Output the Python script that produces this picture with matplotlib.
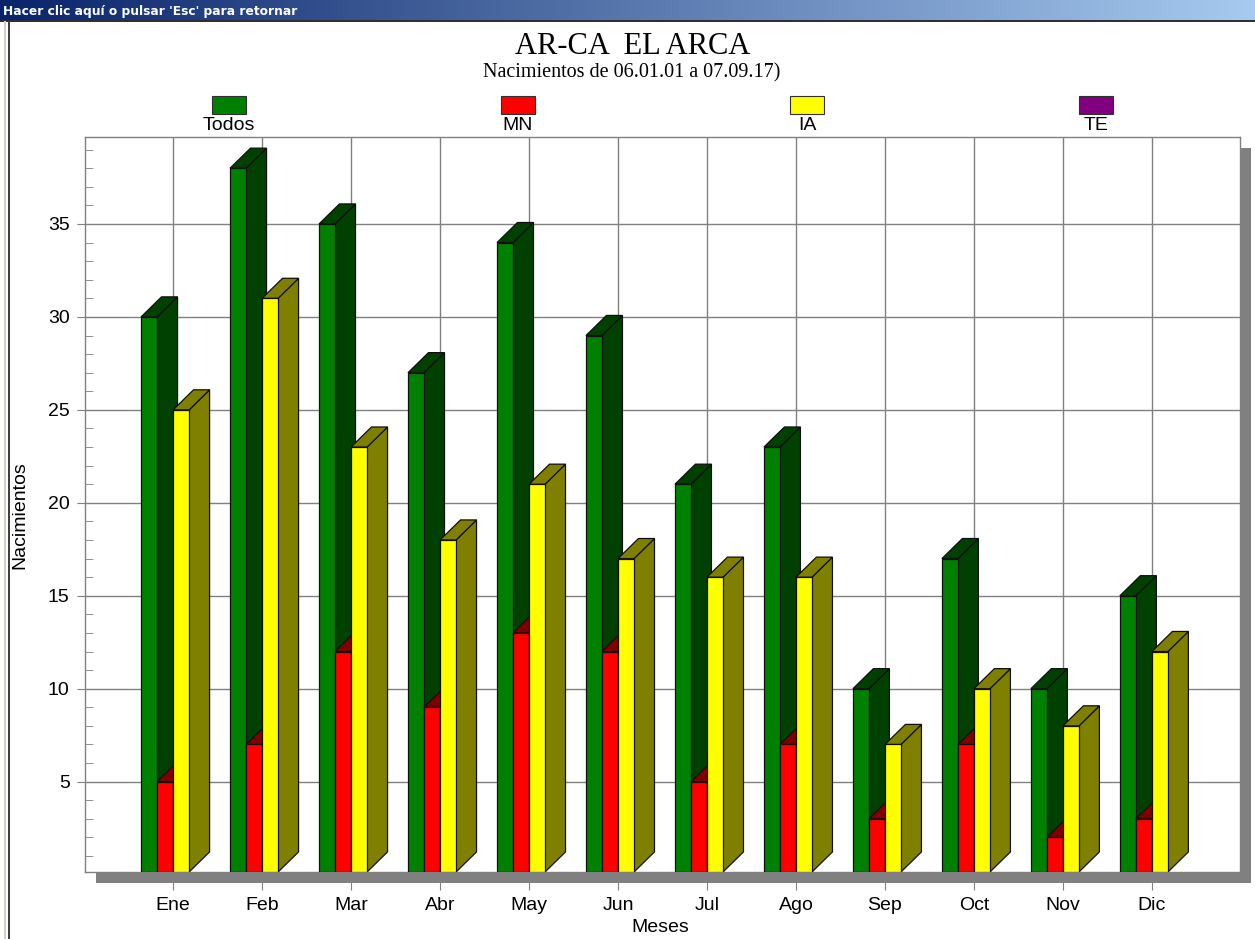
"""3-D style monthly birth chart (Todos / MN / IA / TE)."""

import matplotlib

matplotlib.use("Agg")

import matplotlib.pyplot as plt
import numpy as np
from matplotlib.patches import Polygon, Rectangle
from matplotlib.ticker import MultipleLocator
from matplotlib.transforms import ScaledTranslation

# --------------------------------------------------
# data
# --------------------------------------------------
months = ["Ene", "Feb", "Mar", "Abr", "May", "Jun",
          "Jul", "Ago", "Sep", "Oct", "Nov", "Dic"]
todos = [30, 38, 35, 27, 34, 29, 21, 23, 10, 17, 10, 15]
mn = [5, 7, 12, 9, 13, 12, 5, 7, 3, 7, 2, 3]
ia = [25, 31, 23, 18, 21, 17, 16, 16, 7, 10, 8, 12]

series_names = ["Todos", "MN", "IA", "TE"]
front_colors = ["#008000", "#ff0000", "#ffff00", "#800080"]
dark_colors = ["#004000", "#800000", "#808000", "#400040"]

title = "AR-CA  EL ARCA"
subtitle = "Nacimientos de 06.01.01 a 07.09.17)"
window_caption = "Hacer clic aquí o pulsar 'Esc' para retornar"

# --------------------------------------------------
# figure + layout (pixel based, 100 dpi)
# --------------------------------------------------
W, H = 1255, 939
fig = plt.figure(figsize=(W / 100, H / 100), dpi=100)
fig.patch.set_facecolor("white")

sans = ["Liberation Sans", "DejaVu Sans"]
serif = ["Liberation Serif", "DejaVu Serif"]
fs = 14

# window caption bar with gradient
bar_h = 20
cap = fig.add_axes([0, 1 - bar_h / H, 1, bar_h / H])
grad = np.linspace(0, 1, 256).reshape(1, -1)
cmap = matplotlib.colors.LinearSegmentedColormap.from_list(
    "caption", ["#0a246a", "#a6caf0"])
cap.imshow(grad, aspect="auto", cmap=cmap, extent=[0, 1, 0, 1])
cap.set_axis_off()
cap.text(0.002, 0.45, window_caption, color="white", fontsize=8.8,
         fontweight="bold", family=["DejaVu Sans"], va="center", ha="left",
         transform=cap.transAxes)

# line below the caption and window inner frame on the left
fig.add_artist(Rectangle((0, 1 - (bar_h + 2) / H), 1, 2 / H,
                         transform=fig.transFigure, color="#303030", lw=0))
fig.add_artist(Rectangle((8 / W, 0), 2 / W, 1 - (bar_h + 1) / H,
                         transform=fig.transFigure, color="#404040", lw=0))
fig.add_artist(Rectangle((4 / W, 0), 2 / W, 1 - (bar_h + 1) / H,
                         transform=fig.transFigure, color="#d4d0c8", lw=0))

# plot area
left, right, top, bottom = 85, 1240, 137, 872
ax = fig.add_axes([left / W, 1 - bottom / H, (right - left) / W, (bottom - top) / H])

ylo, yhi = 0.14, 39.68
ax.set_xlim(-0.99, 11.99)
ax.set_ylim(ylo, yhi)

# drop shadow of the plot area
shadow = Rectangle((0, 0), 1, 1, facecolor="#808080", edgecolor="none",
                   transform=ax.transAxes + ScaledTranslation(0.11, -0.11, fig.dpi_scale_trans),
                   zorder=-1)
fig.add_artist(shadow)

# --------------------------------------------------
# 3-D bars
# --------------------------------------------------
w = 0.18          # bar width (category units)
dx, dy = 0.23, 1.08  # depth offset
offsets = [-2 * w, -w, 0.0]
values = [todos, mn, ia]

for i in range(len(months)):
    for k, vals in enumerate(values):
        v = vals[i]
        if v <= 0:
            continue
        x0 = i + offsets[k]
        x1 = x0 + w
        base = ylo
        side = [(x1, base), (x1 + dx, base + dy), (x1 + dx, v + dy), (x1, v)]
        topf = [(x0, v), (x1, v), (x1 + dx, v + dy), (x0 + dx, v + dy)]
        front = [(x0, base), (x1, base), (x1, v), (x0, v)]
        for pts, col in ((side, dark_colors[k]), (topf, dark_colors[k]), (front, front_colors[k])):
            ax.add_patch(Polygon(pts, closed=True, facecolor=col, edgecolor="#101010",
                                 lw=0.9, zorder=3))

# --------------------------------------------------
# axes formatting
# --------------------------------------------------
grid_col = "#808080"
ax.set_xticks(range(len(months)))
ax.set_xticklabels(months, family=sans, fontsize=fs)
ax.yaxis.set_major_locator(MultipleLocator(5))
ax.yaxis.set_minor_locator(MultipleLocator(1))
ax.set_yticks([5, 10, 15, 20, 25, 30, 35])
ax.tick_params(axis="y", which="major", direction="out", length=6, color=grid_col,
               labelsize=fs, pad=5)
ax.tick_params(axis="y", which="minor", direction="in", length=6, color=grid_col)
ax.tick_params(axis="x", which="major", direction="out", length=13, color=grid_col,
               labelsize=fs, pad=5)
for lab in ax.get_yticklabels():
    lab.set_family(sans)

ax.grid(True, which="major", color=grid_col, lw=1)
ax.set_axisbelow(True)
for sp in ax.spines.values():
    sp.set_color(grid_col)
    sp.set_linewidth(1)

ax.set_ylabel("Nacimientos", family=sans, fontsize=fs)
ax.yaxis.set_label_coords(-0.0494, 0.486)
ax.set_xlabel("Meses", family=sans, fontsize=fs, va="center")
ax.xaxis.set_label_coords(0.498, -0.075)

# --------------------------------------------------
# titles + legend
# --------------------------------------------------
fig.text(633 / W, 1 - 47 / H, title, family=serif, fontsize=22, ha="center", va="center")
fig.text(632 / W, 1 - 73 / H, subtitle, family=serif, fontsize=14.5, ha="center", va="center")

for k, name in enumerate(series_names):
    cx = 229 + 289 * k
    fig.add_artist(Rectangle(((cx - 17) / W, 1 - 114 / H), 34 / W, 18 / H,
                             transform=fig.transFigure, facecolor=front_colors[k],
                             edgecolor="#303030", lw=0.8))
    fig.text(cx / W, 1 - 125 / H, name, family=sans, fontsize=fs,
             ha="center", va="center")

fig.savefig("out.png", dpi=100)
